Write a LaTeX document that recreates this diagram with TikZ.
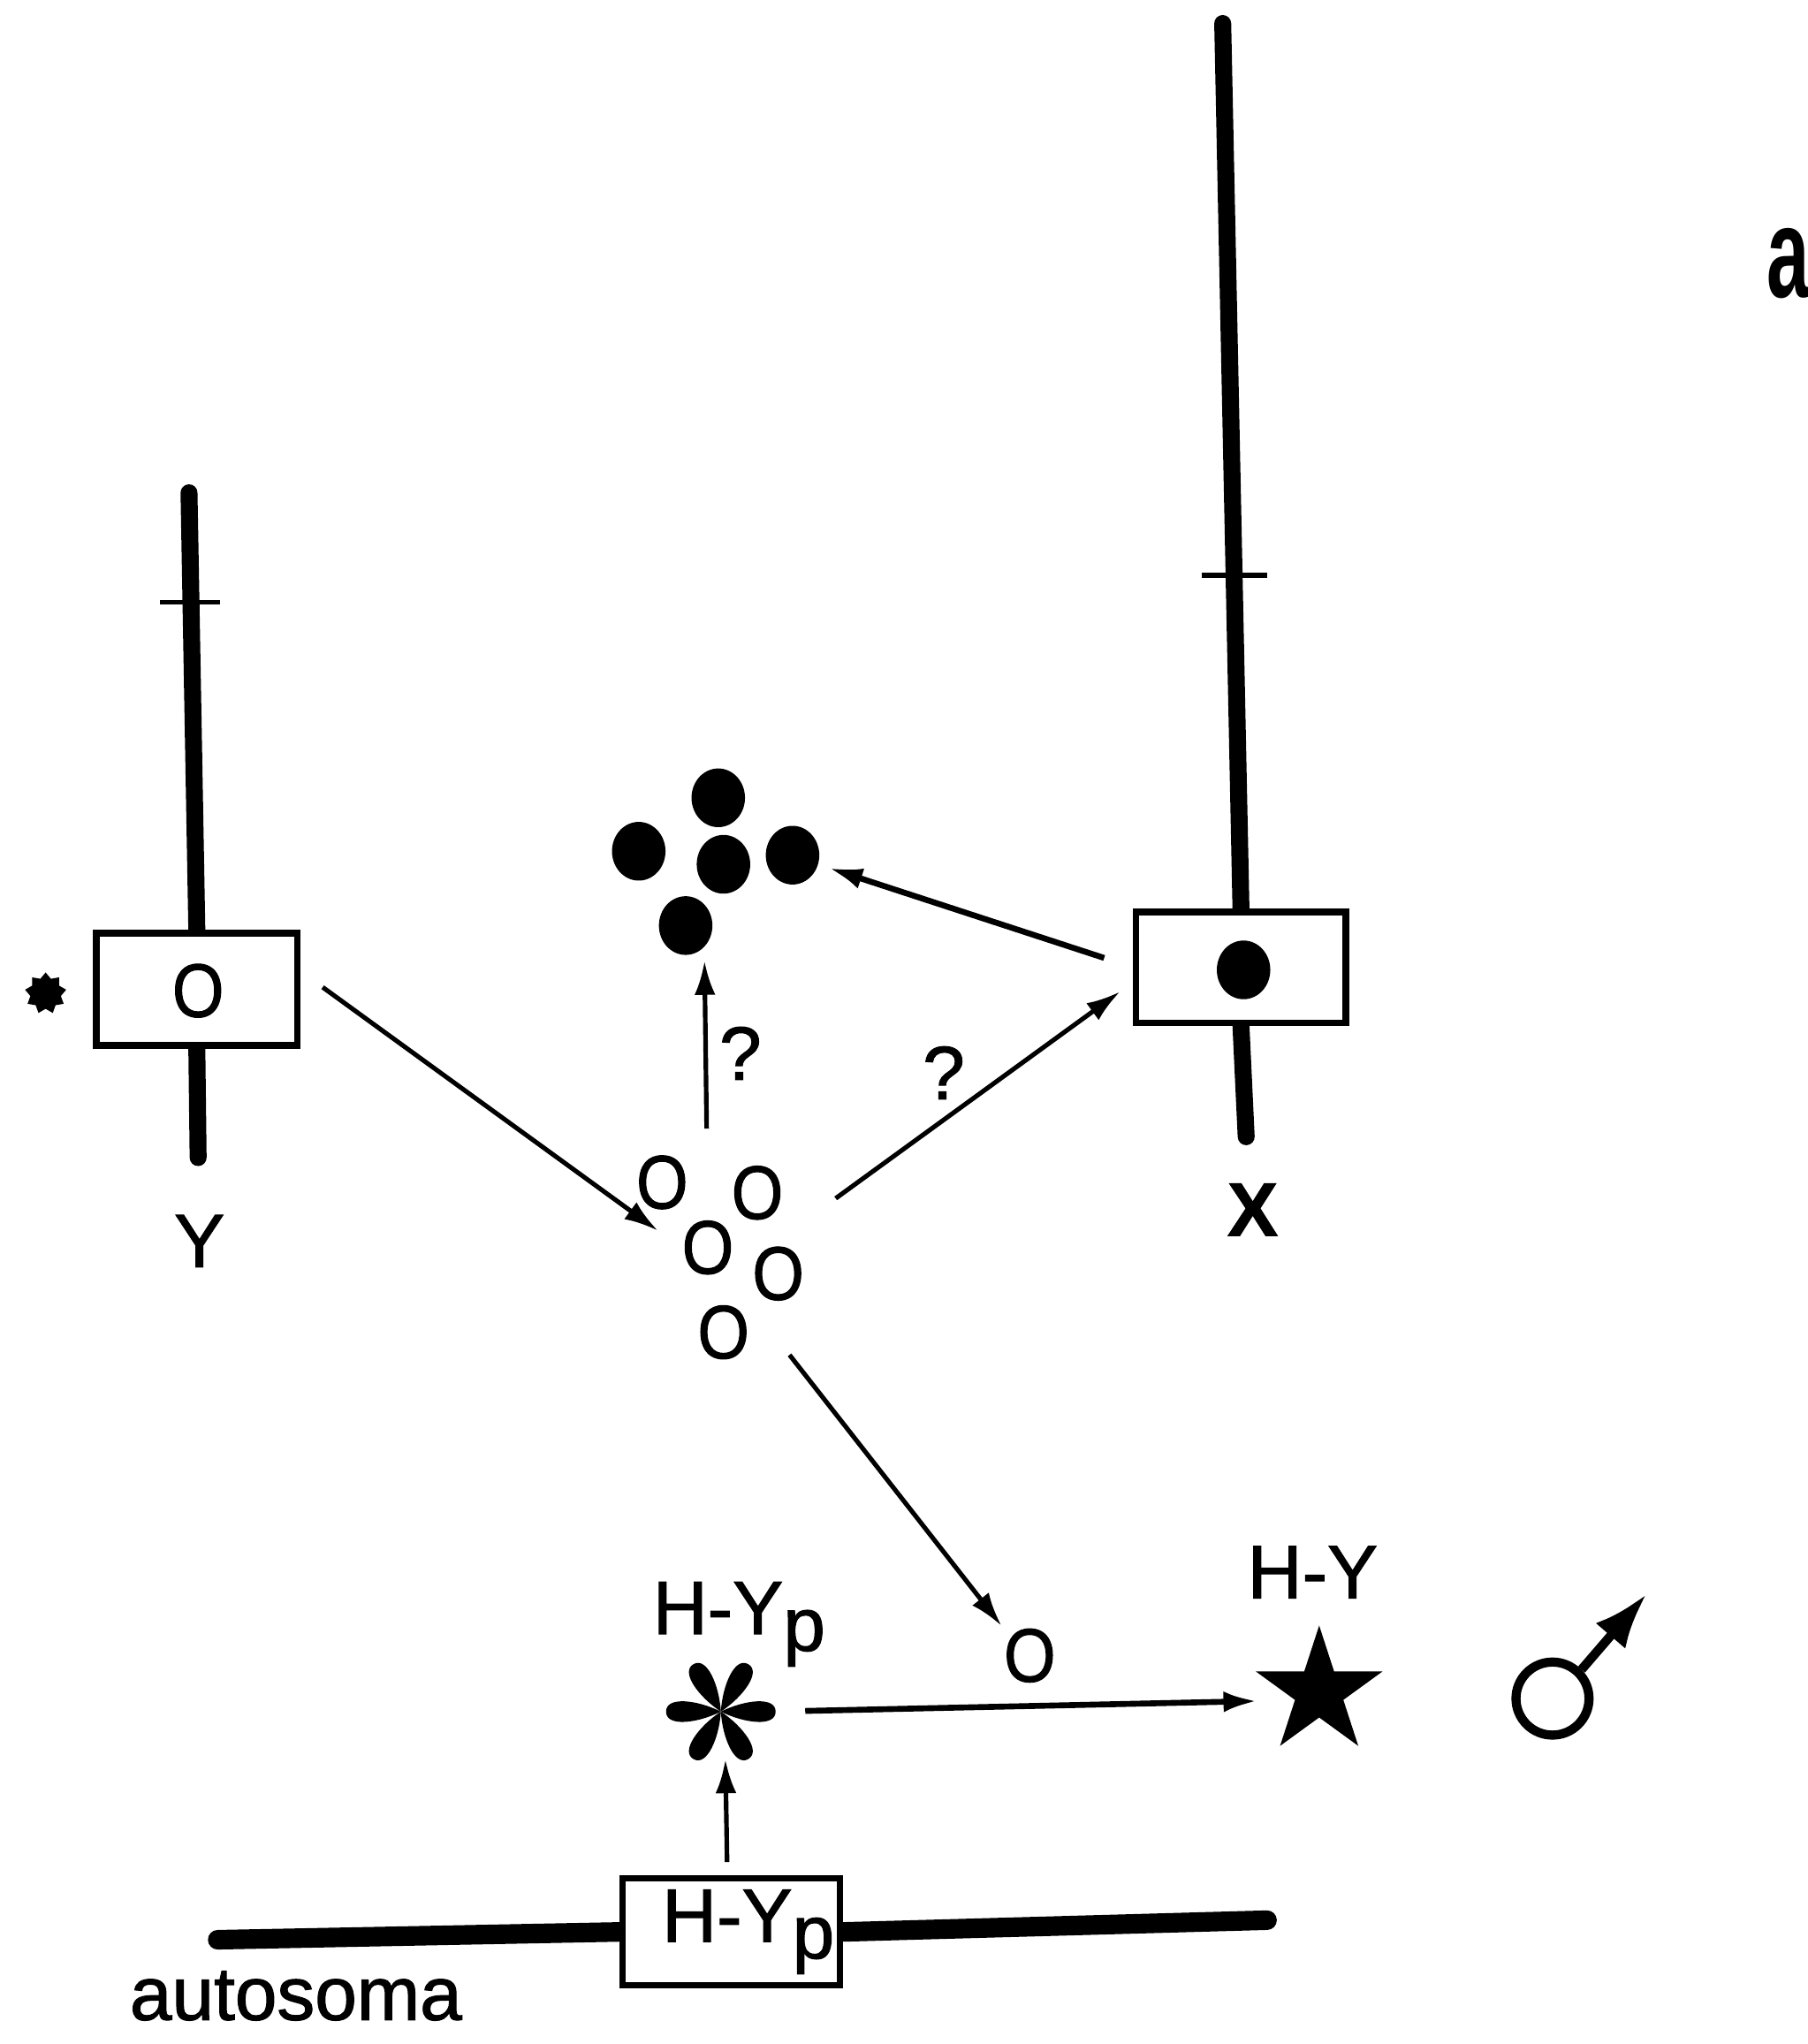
\documentclass[tikz,border=0pt]{standalone}
\usepackage{fontspec}
\setmainfont{Liberation Sans}[FakeBold=1.3]
\newfontfamily\panelfont{Liberation Sans}[FakeStretch=.6]
\usetikzlibrary{shapes.geometric,arrows.meta,backgrounds}
\def\labelsize{\fontsize{16.5pt}{20pt}\selectfont}

\begin{document}
\begin{tikzpicture}[x=.01cm,y=-.01cm,font=\labelsize]
    \tikzstyle{every node}=[inner sep=0pt]
    \tikzstyle{gene box}=[rectangle,draw=black,line width=.05cm,fill=white,minimum width=1.54cm,minimum height=.86cm]
    \tikzstyle{chromosome}=[line width=.13cm,line cap=round]
    \tikzstyle{tick mark}=[rectangle,fill=black,minimum width=.46cm,minimum height=.04cm]
    \tikzstyle{blob}=[ellipse,fill=black,minimum width=.41cm,minimum height=.45cm]
    \tikzstyle{open dot}=[xscale=.88]
    \tikzstyle{link}=[-{Latex[length=.26cm,width=.16cm]},line width=.035cm]
    \useasboundingbox (0,0) rectangle (1387,1568);

    % Draw the chromosome boxes
    \node[gene box] (Y-box) at (151,759) {};
    \node[open dot] (Y-dot) at (152,760) {O};
    \node[gene box,minimum width=1.61cm,minimum height=.85cm] (X-box) at (952,742) {};
    \node[blob] (X-dot) at (954,744) {};
    \node[gene box,minimum width=1.67cm,minimum height=.82cm] (H-box) at (561,1482) {\hspace*{.26cm}H-Y\raisebox{-.22em}{p}};
    \node[star,star points=9,star point ratio=1.35,fill=black,minimum size=.32cm] (Y-mark) at (35,762) {};

    % Draw the chromosome arms
    \coordinate (Y-top) at (145,378);
    \coordinate (Y-end) at (152,888);
    \coordinate (X-top) at (938,18);
    \coordinate (X-end) at (956,872);
    \coordinate (A-left) at (167,1488);
    \coordinate (A-right) at (972,1473);
    \begin{scope}[on background layer]
        \draw[chromosome] (Y-top) -- (Y-box.north);
        \draw[chromosome] (Y-box.south) -- (Y-end);
        \draw[chromosome] (X-top) -- (X-box.north);
        \draw[chromosome] (X-box.south) -- (X-end);
        \draw[chromosome,line width=.15cm] (A-left) -- (H-box.west);
        \draw[chromosome,line width=.15cm] (H-box.east) -- (A-right);
    \end{scope}
    \node[tick mark] (Y-tick) at (146,462) {};
    \node[tick mark,minimum width=.5cm] (X-tick) at (947,441) {};

    % Draw the filled and the open products
    \foreach \name / \x / \y in {1/551/612,2/490/653,3/555/663,4/608/656,5/526/710}
        \node[blob] (B-\name) at (\x,\y) {};
    \foreach \name / \x / \y in {1/508/907,2/581/915,3/543/957,4/597/977,5/555/1022,6/790/1270}
        \node[open dot] (O-\name) at (\x,\y) {O};

    % Draw the flower, the star and the male sign
    \node[circle,minimum size=.8cm] (flower) at (553,1313) {};
    \foreach \a in {0,60,...,300}
        \fill[shift={(flower)},rotate=\a,x=1cm,y=1cm] (0,0) .. controls (.18,.09) and (.42,.12) .. (.42,0) .. controls (.42,-.12) and (.18,-.09) .. (0,0);
    \node[star,star points=5,star point ratio=2.618,fill=black,minimum size=1.02cm] (H-star) at (1012,1298) {};
    \node[ellipse,draw=black,line width=.07cm,minimum width=.56cm,minimum height=.56cm] (male) at (1191,1303) {};
    \coordinate (male-tip) at (1263,1223);
    \draw[line width=.07cm,-{Latex[length=.42cm,width=.3cm]}] (male.45) -- (male-tip);

    % Connect the boxes and the products
    \draw[link,shorten <=.21cm,shorten >=.22cm] (Y-box.10) -- (O-3.west);
    \draw[link,shorten <=.62cm,shorten >=.12cm] (O-4.108) -- (X-box.188);
    \draw[link,shorten <=.70cm,shorten >=.10cm] (O-3.north) -- (B-5.-50);
    \draw[link,line width=.045cm,shorten <=.23cm,shorten >=.08cm] (X-box.west) -- (B-4.-20);
    \draw[link,shorten <=.49cm,shorten >=.02cm] (O-5.north east) -- (O-6.north west);
    \draw[link,line width=.045cm,shorten <=.24cm,shorten >=.28cm] (flower.east) -- (H-star.198);
    \draw[link,shorten <=.1cm,shorten >=-.04cm] (H-box.94) -- (flower.-85);

    % Labels
    \node (Y-label) at (153,952) {Y};
    \node (X-label) at (961,928) {\textbf{X}};
    \node (q-1) at (568,808) {?};
    \node (q-2) at (724,823) {?};
    \node (flower-label) at (567,1246) {H-Y\raisebox{-.22em}{p}};
    \node (star-label) at (1007,1206) {H-Y};
    \node (autosome) at (227,1531) {autosoma};
    \node[font=\fontsize{28pt}{30pt}\selectfont\panelfont\bfseries] (panel) at (1372,202) {a};
\end{tikzpicture}
\end{document}
